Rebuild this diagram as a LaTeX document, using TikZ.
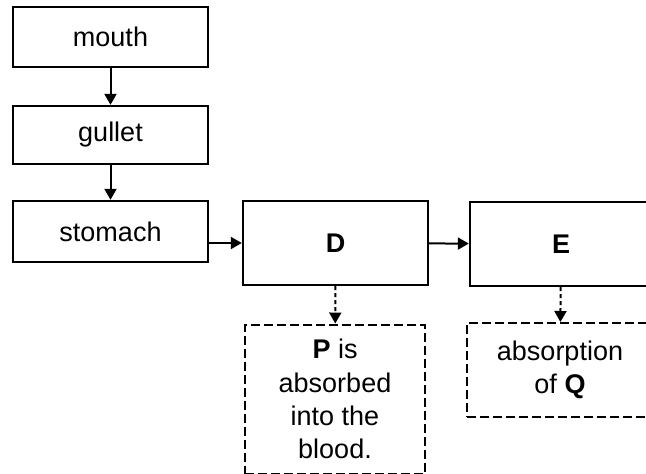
\documentclass[tikz,border=0pt]{standalone}
\usepackage{fontspec}
\setmainfont{Liberation Sans}
\usetikzlibrary{positioning,arrows.meta}

\tikzset{
  organ/.style={draw, line width=1.2pt, inner sep=2pt, align=center,
    font=\fontsize{13.5}{16.6}\selectfont},
  note/.style={organ, line width=1pt, dash pattern=on 4.5pt off 2pt},
  flow/.style={line width=1pt, -{Triangle[length=5.5pt,width=6pt]}},
  dflow/.style={flow, dash pattern=on 2pt off 1.5pt}
}

\begin{document}
\begin{tikzpicture}[x=0.5pt,y=-0.5pt]
  \clip (0,0) rectangle (646,473);

  % main chain
  \node[organ, minimum width=97.5pt, minimum height=30pt] (mouth) at (110.5,37) {mouth};
  \node[organ, minimum width=97.5pt, minimum height=29pt] (gullet) at (110.5,135) {gullet};
  \node[organ, minimum width=97.5pt, minimum height=30.5pt] (stomach) at (110.5,231.5) {stomach};
  \node[organ, minimum width=92.5pt, minimum height=42pt] (D) at (335.5,243) {\textbf{D}};
  \node[organ, minimum width=91pt, minimum height=42pt] (E) at (561,244) {\textbf{E}};

  % what happens in D and E
  \node[note, minimum width=90pt, minimum height=74.5pt] (P) at (335,399)
    {\textbf{P} is\\absorbed\\into the\\blood.};
  \node[note, minimum width=93pt, minimum height=47pt] (Q) at (560,370)
    {absorption\\of \textbf{Q}};

  \draw[flow] (mouth) -- (gullet);
  \draw[flow] (gullet) -- (stomach);
  \draw[flow] (stomach.east |- D.west) -- (D.west);
  \draw[flow] (D) -- (E);
  \draw[dflow] (D) -- (P);
  \draw[dflow] (E) -- (Q);
\end{tikzpicture}
\end{document}
